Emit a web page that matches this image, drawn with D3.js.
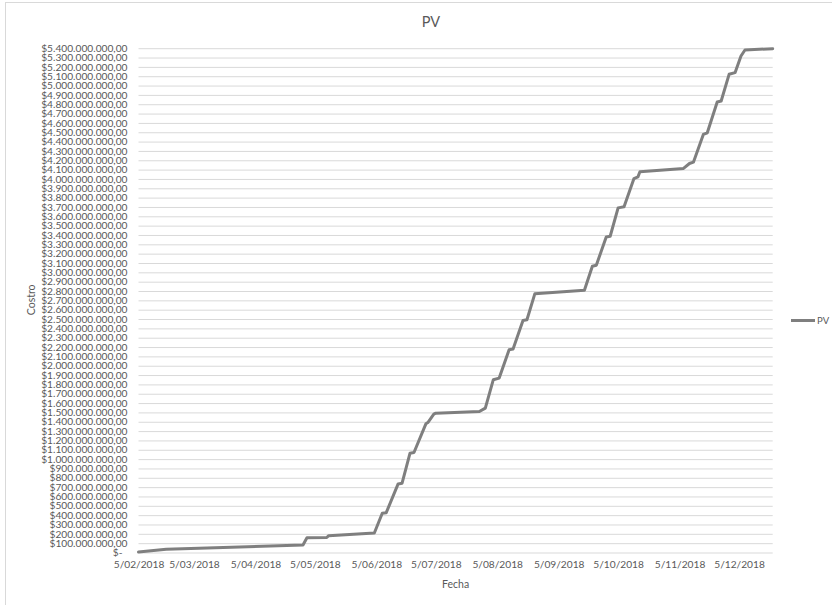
<!DOCTYPE html>
<html>
<head>
<meta charset="utf-8">
<script src="https://cdn.jsdelivr.net/npm/d3@7"></script>
<style>
  html, body { margin: 0; padding: 0; background: #fff; }
  svg { display: block; }
  text { font-family: Lato, "Open Sans", sans-serif; fill: #595959; }
</style>
</head>
<body>
<svg id="chart" width="832" height="605"></svg>
<script>
// Valor planeado (PV) acumulado, en pesos
const fechas = [
  "2018-02-05", "2018-02-19", "2018-04-29", "2018-05-01", "2018-05-11", "2018-05-12",
  "2018-06-04", "2018-06-08", "2018-06-10", "2018-06-16", "2018-06-18", "2018-06-22",
  "2018-06-24", "2018-06-30", "2018-07-01", "2018-07-04", "2018-07-05", "2018-07-27",
  "2018-07-30", "2018-08-03", "2018-08-06", "2018-08-11", "2018-08-13", "2018-08-18",
  "2018-08-20", "2018-08-24", "2018-09-18", "2018-09-22", "2018-09-24", "2018-09-29",
  "2018-10-01", "2018-10-05", "2018-10-08", "2018-10-13", "2018-10-15", "2018-10-16",
  "2018-11-07", "2018-11-10", "2018-11-12", "2018-11-17", "2018-11-19", "2018-11-24",
  "2018-11-26", "2018-11-30", "2018-12-03", "2018-12-06", "2018-12-08", "2018-12-22"
];
const pvMillones = [
  0, 30, 75, 153, 155, 175,
  204, 415, 421, 729, 737, 1058,
  1065, 1372, 1386, 1476, 1487, 1504,
  1541, 1844, 1862, 2166, 2173, 2480,
  2487, 2766, 2802, 3059, 3070, 3374,
  3381, 3685, 3696, 3999, 4017, 4071,
  4107, 4160, 4174, 4471, 4489, 4818,
  4829, 5115, 5133, 5311, 5375, 5390
];
const fechasEje = [
  "2018-02-05", "2018-03-05", "2018-04-05", "2018-05-05", "2018-06-05", "2018-06-05",
  "2018-07-05", "2018-08-05", "2018-09-05", "2018-10-05", "2018-11-05", "2018-12-05"
].filter((d, i, a) => a.indexOf(d) === i);
const valoresEje = d3.range(0, 5400 + 1, 100); // millones
const titulo = "PV";
const tituloX = "Fecha";
const tituloY = "Costro";
const nombreSerie = "PV";

const parse = d3.utcParse("%Y-%m-%d");
const datos = fechas.map((f, i) => ({ fecha: parse(f), valor: pvMillones[i] * 1e6 }));

const locale = d3.formatLocale({
  decimal: ",", thousands: ".", grouping: [3], currency: ["$", ""]
});
const fmtMoneda = v => v === 0 ? "$-" : locale.format("$,.2f")(v);
const fmtFecha = d3.utcFormat("%-d/%m/%Y");

const svg = d3.select("#chart");

// Borde del área del gráfico
svg.append("rect")
  .attr("x", 5.5).attr("y", 2.5)
  .attr("width", 840).attr("height", 620)
  .attr("fill", "none").attr("stroke", "#d9d9d9");

const plot = { left: 138.5, right: 772.7, top: 47.7, bottom: 552 };

const x = d3.scaleUtc()
  .domain([parse("2018-02-05"), parse("2018-12-22")])
  .range([plot.left, plot.right]);
const y = d3.scaleLinear()
  .domain([0, 5.4e9])
  .range([plot.bottom, plot.top]);

// Líneas de cuadrícula y etiquetas del eje Y
const yAxis = d3.axisLeft(y)
  .tickValues(valoresEje.map(v => v * 1e6))
  .tickFormat(fmtMoneda)
  .tickSize(-(plot.right - plot.left))
  .tickPadding(11);
const gy = svg.append("g")
  .attr("transform", `translate(${plot.left},0)`)
  .call(yAxis);
gy.select(".domain").remove();
gy.selectAll(".tick line").attr("stroke", "#d9d9d9").attr("stroke-width", 1)
  .attr("transform", "translate(0,0.5)");
gy.selectAll(".tick text")
  .attr("font-size", 10.2)
  .attr("fill", "#595959")
  .style("font-family", "Lato, sans-serif")
  .attr("dy", "0.36em")
  .attr("dx", d => d === 0 ? -5 : 0);

// Eje X con fechas mensuales
const xAxis = d3.axisBottom(x)
  .tickValues(fechasEje.map(parse))
  .tickFormat(fmtFecha)
  .tickSize(0)
  .tickPadding(9);
const gx = svg.append("g")
  .attr("transform", `translate(0,${plot.bottom})`)
  .call(xAxis);
gx.select(".domain").remove();
gx.selectAll(".tick text")
  .attr("font-size", 10.2)
  .attr("fill", "#595959")
  .style("font-family", "Lato, sans-serif");

// Serie PV
const linea = d3.line()
  .x(d => x(d.fecha))
  .y(d => y(d.valor))
  .curve(d3.curveLinear);
svg.append("path")
  .datum(datos)
  .attr("d", linea)
  .attr("fill", "none")
  .attr("stroke", "#7f7f7f")
  .attr("stroke-width", 3)
  .attr("stroke-linejoin", "round")
  .attr("stroke-linecap", "round");

// Título
svg.append("text")
  .attr("x", 431).attr("y", 27)
  .attr("text-anchor", "middle")
  .attr("font-size", 14.5)
  .text(titulo);

// Títulos de ejes
svg.append("text")
  .attr("x", (plot.left + plot.right) / 2).attr("y", 588)
  .attr("text-anchor", "middle")
  .attr("font-size", 10.5)
  .text(tituloX);
svg.append("text")
  .attr("transform", `translate(35,${(plot.top + plot.bottom) / 2}) rotate(-90)`)
  .attr("text-anchor", "middle")
  .attr("font-size", 10.5)
  .text(tituloY);

// Leyenda
const leyenda = svg.append("g").attr("transform", "translate(791,320.5)");
leyenda.append("line")
  .attr("x1", 0).attr("x2", 24)
  .attr("stroke", "#7f7f7f").attr("stroke-width", 3);
leyenda.append("text")
  .attr("x", 26).attr("dy", "0.36em")
  .attr("font-size", 9.5)
  .text(nombreSerie);
</script>
</body>
</html>
